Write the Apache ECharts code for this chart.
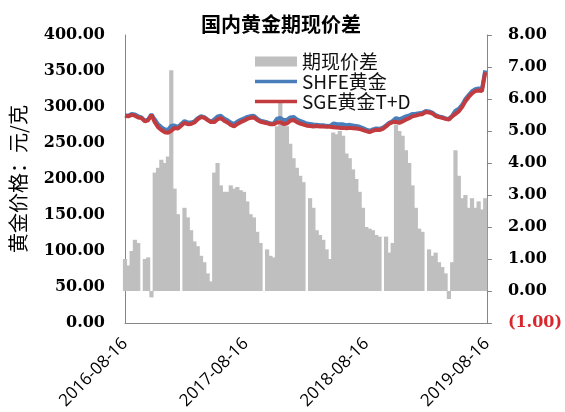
<!DOCTYPE html>
<html><head><meta charset="utf-8">
<script src="https://cdn.jsdelivr.net/npm/echarts@6/dist/echarts.min.js"></script>
<style>html,body{margin:0;padding:0;background:#fff}#c{width:565px;height:412px}</style>
</head><body><div id="c"></div><script>
const titleText = '国内黄金期现价差';
const seriesNames = ['期现价差', 'SHFE黄金', 'SGE黄金T+D'];
const leftAxisName = '黄金价格：元/克';
const sampleStart = '2016-08-16';
const sampleStepDays = 10;
const axisStart = '2016-08-16';
const xTickLabels = ['2016-08-16', '2017-08-16', '2018-08-16', '2019-08-16'];

const spread = [
1.0,0.8,1.25,1.6,1.5,0,1.0,1.05,-0.2,3.7,
3.85,4.1,4.0,4.2,6.9,3.2,2.4,0,2.6,2.3,
1.9,1.55,1.4,1.1,0.9,0.55,0.3,3.7,4.0,3.3,
3.1,3.1,3.3,3.2,3.25,3.15,3.1,2.8,2.4,2.3,
1.85,1.5,0,1.3,1.1,1.05,5.15,5.9,5.2,5.15,
4.6,4.15,3.85,3.6,3.4,0,2.9,2.6,1.9,1.75,
1.6,1.3,1.0,4.95,4.9,5.0,4.85,4.3,4.15,3.8,
3.5,3.1,2.6,2.0,1.95,1.9,1.75,1.7,0,1.7,
1.2,1.5,5.2,5.0,4.85,4.4,4.0,3.3,2.6,1.95,
1.85,0,1.3,1.1,1.2,0.9,0.75,0.55,-0.25,0.9,
4.4,3.6,2.9,3.0,2.6,2.9,2.6,2.8,2.55,2.9
];
const shfe = [
288.5,287.8,290.3,289.6,287.0,285.5,281.0,282.6,289.9,282.7,
275.9,272.1,269.0,268.2,273.9,274.2,272.4,276.5,280.6,278.3,
278.4,280.1,284.4,287.1,285.9,282.6,279.3,282.7,287.0,287.8,
284.1,281.6,278.3,276.2,279.8,282.2,284.1,286.3,287.4,287.8,
283.9,281.0,279.9,278.8,277.1,277.1,283.7,284.9,281.7,282.2,
285.6,286.2,282.9,280.6,278.9,277.0,276.4,275.6,275.4,274.8,
274.6,273.8,273.5,277.0,276.4,276.0,275.9,274.8,275.2,274.3,
273.5,272.6,270.6,268.5,267.0,268.9,270.3,269.7,271.2,274.7,
278.2,280.5,284.7,283.0,284.9,286.9,288.5,290.3,290.6,291.5,
291.9,294.5,293.8,292.1,288.7,286.9,285.8,284.1,283.4,287.9,
294.9,297.6,302.9,311.0,316.6,321.9,324.6,325.8,324.6,350.9
];
const sge = [
287.5,287,289,288,285.5,284.5,280,281.5,289,279,
272,268,265,264,267,271,270,274,278,276,
276.5,278.5,283,286,285,282,279,279,283,284.5,
281,278.5,275,273,276.5,279,281,283.5,285,285.5,
282,279.5,278.5,277.5,276,276,278.5,279,276.5,277,
281,282,279,277,275.5,274,273.5,273,273.5,273,
273,272.5,272.5,272,271.5,271,271,270.5,271,270.5,
270,269.5,268,266.5,265,267,268.5,268,269.5,273,
277,279,279.5,278,280,282.5,284.5,287,288,289.5,
290,293,292.5,291,287.5,286,285,283.5,282.5,287,
290.5,294,300,308,314,319,322,323,322,348
];

const DAY = 86400000;
function toUTC(s) { const p = s.split('-').map(Number); return Date.UTC(p[0], p[1] - 1, p[2]); }
function pad(n) { return (n < 10 ? '0' : '') + n; }
function fmt(t) { const d = new Date(t); return d.getUTCFullYear() + '-' + pad(d.getUTCMonth() + 1) + '-' + pad(d.getUTCDate()); }
const t0 = toUTC(axisStart);
const dates = spread.map((_, i) => fmt(toUTC(sampleStart) + i * sampleStepDays * DAY));
const dayOf = s => Math.round((toUTC(s) - t0) / DAY);
const pairs = arr => arr.map((v, i) => [dayOf(dates[i]), v]);
const tickDays = xTickLabels.map(dayOf);

const cjk = '"Noto Sans CJK SC", sans-serif';
const serif = '"DejaVu Serif", serif';
const lineIcon = 'path://M0,0L42,0L42,3.5L0,3.5Z';

const chart = echarts.init(document.getElementById('c'), null, { renderer: 'canvas' });
chart.setOption({
  animation: false,
  backgroundColor: '#fff',
  title: {
    text: titleText, left: 196, top: 9,
    textStyle: { fontFamily: cjk, fontSize: 20, fontWeight: 'bold', color: '#000' }
  },
  legend: {
    orient: 'vertical', left: 250, top: 47, itemWidth: 42, itemHeight: 10, itemGap: 1,
    symbolKeepAspect: true,
    textStyle: { fontFamily: cjk, fontSize: 19, color: '#111' },
    data: [{ name: seriesNames[0], icon: 'rect' },
           { name: seriesNames[1], icon: lineIcon },
           { name: seriesNames[2], icon: lineIcon }]
  },
  grid: { left: 124, right: 74, top: 35, bottom: 89 },
  xAxis: {
    type: 'value', min: tickDays[0], max: tickDays[tickDays.length - 1], interval: tickDays[1] - tickDays[0],
    axisLine: { show: true, onZero: false, lineStyle: { color: '#868686', width: 1 } },
    axisTick: { show: false },
    splitLine: { show: false },
    axisLabel: {
      rotate: 45, margin: 18, fontSize: 17, color: '#000', fontFamily: '"Open Sans", sans-serif',
      hideOverlap: false, showMinLabel: true, showMaxLabel: true,
      formatter: v => fmt(t0 + v * DAY)
    }
  },
  yAxis: [{
    type: 'value', min: 0, max: 400, interval: 50, position: 'left',
    name: leftAxisName, nameLocation: 'middle', nameGap: 97,
    nameTextStyle: { fontFamily: cjk, fontSize: 20, color: '#000' },
    axisLine: { show: true, lineStyle: { color: '#868686', width: 1 } },
    axisTick: { show: false }, splitLine: { show: false },
    axisLabel: { margin: 20, fontFamily: serif, fontWeight: 'bold', fontSize: 16, color: '#000',
      formatter: v => v.toFixed(2) }
  }, {
    type: 'value', min: -1, max: 8, interval: 1, position: 'right',
    axisLine: { show: true, lineStyle: { color: '#868686', width: 1 } },
    axisTick: { show: true, inside: false, length: 5, lineStyle: { color: '#868686' } },
    splitLine: { show: false },
    axisLabel: { margin: 21, fontFamily: serif, fontWeight: 'bold', fontSize: 16, color: '#000',
      formatter: v => v < 0 ? '{neg|(' + (-v).toFixed(2) + ')}' : v.toFixed(2),
      rich: { neg: { color: '#D9262C', fontFamily: serif, fontWeight: 'bold', fontSize: 16 } } }
  }],
  series: [{
    name: seriesNames[0], type: 'bar', yAxisIndex: 1, barWidth: 4.2,
    itemStyle: { color: '#BFBFBF' }, data: pairs(spread)
  }, {
    name: seriesNames[1], type: 'line', yAxisIndex: 0, showSymbol: false, symbol: 'none',
    lineStyle: { width: 4, color: '#4A7EBB' }, itemStyle: { color: '#4A7EBB' }, data: pairs(shfe)
  }, {
    name: seriesNames[2], type: 'line', yAxisIndex: 0, showSymbol: false, symbol: 'none',
    lineStyle: { width: 4, color: '#C23B3E' }, itemStyle: { color: '#C23B3E' }, data: pairs(sge)
  }]
});
</script></body></html>
